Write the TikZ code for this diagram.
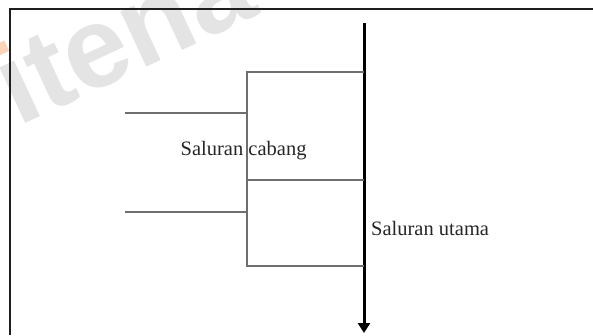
\documentclass[tikz,border=0pt]{standalone}
\usepackage{fontspec}
\setmainfont{Liberation Serif}
\newfontfamily\wmfont{Liberation Sans}
\usetikzlibrary{arrows.meta}
\definecolor{wmgrey}{HTML}{E4E4E4}
\definecolor{wmdot}{HTML}{FAD3B8}
\definecolor{branchgrey}{HTML}{6E6E6E}
\tikzset{
  framebar/.style={line width=2pt, draw=black!88},
  pipe/.style={line width=1.4pt, draw=branchgrey},
  mainpipe/.style={line width=3pt, draw=black, -{Triangle[length=10pt,width=12pt]}},
  label/.style={inner sep=0pt, font=\fontsize{20.5}{24}\selectfont, text=black!85},
}
\begin{document}
\begin{tikzpicture}[x=1pt,y=-1pt]
  \useasboundingbox (0,0) rectangle (593,335);
  \fill[white] (0,0) rectangle (593,335);

  % faint watermark behind the drawing: an orange-dotted i under a grey dotless one
  \node[anchor=base west, inner sep=0pt, rotate=25, text=wmgrey,
        font=\wmfont\bfseries\fontsize{115}{120}\selectfont] (wm) at (18,127)
        {\rlap{\textcolor{wmdot}{i}}ıtena};

  % frame (top and left edges)
  \draw[framebar] (9.5,335) -- (9.5,8.5) -- (593,8.5);

  % main channel
  \coordinate (mtop) at (364,23);
  \coordinate (mend) at (364,333);
  \draw[mainpipe] (mtop) -- (mend);

  % branch box
  \coordinate (b1) at (247,72);
  \coordinate (b2) at (247,180);
  \coordinate (b3) at (247,266);
  \coordinate (m1) at (364,72);
  \coordinate (m2) at (364,180);
  \coordinate (m3) at (364,266);
  \draw[pipe] (m1) -- (b1) -- (b3) -- (m3);
  \draw[pipe] (b2) -- (m2);

  % inflow lines
  \coordinate (i1) at (125,113);
  \coordinate (j1) at (247,113);
  \coordinate (i2) at (125,212);
  \coordinate (j2) at (247,212);
  \draw[pipe] (i1) -- (j1);
  \draw[pipe] (i2) -- (j2);

  % labels
  \node[label, anchor=base west] (cabang) at (180.5,155) {Saluran cabang};
  \node[label, anchor=base west] (utama) at (371,235.5) {Saluran utama};
\end{tikzpicture}
\end{document}
